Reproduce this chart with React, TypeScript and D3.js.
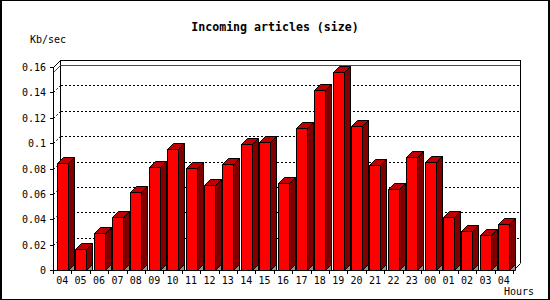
import React from "react";
import * as d3 from "d3";

const title = "Incoming articles (size)";
const yTitle = "Kb/sec";
const xTitle = "Hours";
const hours = ["04","05","06","07","08","09","10","11","12","13","14","15","16","17","18","19","20","21","22","23","00","01","02","03","04"];
const values = [0.0842,0.0163,0.029,0.0416,0.0613,0.0811,0.0955,0.0805,0.0668,0.0834,0.0992,0.1008,0.0684,0.1118,0.1418,0.156,0.1134,0.0826,0.0637,0.089,0.085,0.0416,0.0305,0.0274,0.0363];
const yTicks = [0,0.02,0.04,0.06,0.08,0.1,0.12,0.14,0.16];

const W = 550, H = 300;
const X0 = 53, X1 = 513, Y0 = 270, YTOP = 67;
const DEPTH = 7; // axis depth
const BD = 6; // bar depth
const BW = 11;
const MONO = "'DejaVu Sans Mono', monospace";

export default function App() {
  const idx = hours.map((_, i) => String(i));
  const x = d3.scaleBand<string>().domain(idx).range([X0, X1]).padding(0);
  const y = d3.scaleLinear().domain([0, 0.16]).range([Y0, YTOP]);
  const maxV = d3.max(values) as number;
  const bx0 = X0 + DEPTH, bx1 = X1 + DEPTH;
  const ym = Math.round(y(maxV));

  return (
    <svg width={W} height={H} style={{ position: "absolute", left: 0, top: 0, display: "block", background: "#fff" }}>
      <rect x={0} y={0} width={W} height={H} fill="#fff" />
      {/* back box */}
      <g shapeRendering="crispEdges">
        <line x1={bx0 + 0.5} y1={YTOP - DEPTH} x2={bx0 + 0.5} y2={Y0 - DEPTH} stroke="#000" />
        <line x1={bx0} y1={YTOP - DEPTH + 0.5} x2={bx1 + 1} y2={YTOP - DEPTH + 0.5} stroke="#000" />
        <line x1={bx1 + 0.5} y1={YTOP - DEPTH} x2={bx1 + 0.5} y2={Y0 - DEPTH} stroke="#000" />
        {yTicks.slice(1, -1).map((t, i) => {
          const yy = Math.round(y(t));
          return (
            <g key={i}>
              <line x1={bx0 + 1} y1={yy - DEPTH + 0.5} x2={bx1} y2={yy - DEPTH + 0.5} stroke="#000" strokeDasharray="2,2" />
            </g>
          );
        })}
        <line x1={bx0 + 1} y1={ym - DEPTH + 0.5} x2={bx1} y2={ym - DEPTH + 0.5} stroke="#ff0000" />
      </g>
      <g>
        {yTicks.slice(1, -1).map((t, i) => {
          const yy = Math.round(y(t));
          return <line key={i} x1={X0 + 0.5} y1={yy + 0.5} x2={bx0 + 0.5} y2={yy - DEPTH + 0.5} stroke="#000" strokeDasharray="2,2" />;
        })}
        <line x1={X0 + 0.5} y1={YTOP + 0.5} x2={bx0 + 0.5} y2={YTOP - DEPTH + 0.5} stroke="#000" />
        <line x1={X0 + 0.5} y1={ym + 0.5} x2={bx0 + 0.5} y2={ym - DEPTH + 0.5} stroke="#ff0000" />
        <line x1={X1 + 0.5} y1={Y0 + 0.5} x2={bx1 + 0.5} y2={Y0 - DEPTH + 0.5} stroke="#000" />
      </g>
      {/* bars */}
      <g stroke="#000" strokeWidth={1} strokeLinejoin="miter">
        {values.map((v, i) => {
          const c = (x(String(i)) as number) + x.bandwidth() / 2;
          const l = Math.round(c - BW / 2) + 0.5;
          const r = l + BW;
          const t = Math.round(y(v)) + 0.5;
          const b = Y0 + 0.5;
          return (
            <g key={i}>
              <polygon points={`${r},${b} ${r + BD},${b - BD} ${r + BD},${b}`} fill="#909090" />
              <polygon points={`${l},${t} ${r},${t} ${r},${b} ${l},${b}`} fill="#ff0000" />
              <polygon points={`${r},${t} ${r + BD},${t - BD} ${r + BD},${b - BD} ${r},${b}`} fill="#800000" />
              <polygon points={`${l},${t} ${l + BD},${t - BD} ${r + BD},${t - BD} ${r},${t}`} fill="#c00000" />
            </g>
          );
        })}
      </g>
      {/* axes */}
      <g shapeRendering="crispEdges" stroke="#000">
        <line x1={X0 + 0.5} y1={YTOP} x2={X0 + 0.5} y2={Y0 + 1} />
        <line x1={X0} y1={Y0 + 0.5} x2={X1 + 1} y2={Y0 + 0.5} />
        {yTicks.map((t, i) => {
          const yy = Math.round(y(t)) + 0.5;
          return <line key={i} x1={X0 - 3} y1={yy} x2={X0} y2={yy} />;
        })}
        {d3.range(hours.length + 1).map((i) => {
          const xx = Math.round(X0 + i * x.step()) + 0.5;
          return <line key={i} x1={xx} y1={Y0} x2={xx} y2={Y0 + 4} />;
        })}
      </g>
      <g fontFamily={MONO} fontSize={10} fill="#000">
        {yTicks.map((t, i) => (
          <text key={i} x={46} y={Math.round(y(t)) + 4} textAnchor="end">{String(+t.toFixed(2))}</text>
        ))}
        {hours.map((h, i) => (
          <text key={i} x={(x(String(i)) as number) + x.bandwidth() / 2} y={283.5} textAnchor="middle">{h}</text>
        ))}
        <text x={534} y={295} textAnchor="end">{xTitle}</text>
        <text x={30} y={43}>{yTitle}</text>
      </g>
      <text x={275} y={31} textAnchor="middle" fontFamily={MONO} fontWeight="bold" fontSize={11.6}>{title}</text>
      {/* frame */}
      <g shapeRendering="crispEdges">
        <rect x={0} y={0} width={2} height={H} fill="#000" />
        <rect x={W - 2} y={0} width={2} height={H} fill="#000" />
        <rect x={0} y={0} width={W} height={1} fill="#000" />
        <rect x={0} y={H - 1} width={W} height={1} fill="#000" />
      </g>
    </svg>
  );
}
